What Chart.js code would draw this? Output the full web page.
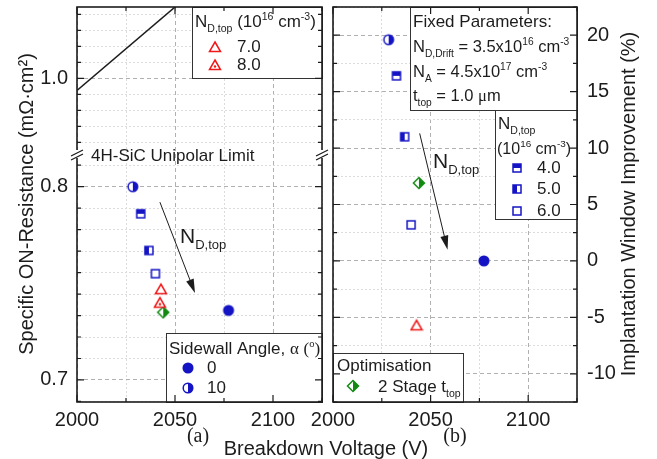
<!DOCTYPE html>
<html>
<head>
<meta charset="utf-8">
<script src="https://cdn.jsdelivr.net/npm/chart.js@4.4.1/dist/chart.umd.min.js"></script>
<style>
  body { margin: 0; background: #fff; }
  #wrap { position: relative; width: 657px; height: 459px; }
  canvas { position: absolute; left: 0; top: 0; }
  #chartB { visibility: hidden; }
</style>
</head>
<body>
<div id="wrap">
  <canvas id="chartB" width="657" height="459"></canvas>
  <canvas id="chartA" width="657" height="459"></canvas>
</div>
<script>
// one point per simulated design
const seriesNames = ['alpha0', 'alpha10', 'nd4', 'nd5', 'nd6', 'nd7', 'nd8', 'twoStage'];
const breakdownV = [2077.3, 2028.5, 2032.5, 2036.7, 2040.0, 2042.8, 2042.3, 2044.0];
const ronSp = [0.736, 0.800, 0.786, 0.767, 0.755, 0.747, 0.740, 0.735];
const windowImpr = [0, 19.6, 16.4, 11.0, 3.2, -5.7, null, 6.9];

// 4H-SiC unipolar limit (upper part of the broken axis)
const limitV = [2000, 2060];
const limitRon = [0.9925, 1.055];

// tick labels
const vLabels = [2000, 2050, 2100];
const ronLabels = [0.7, 0.8, 1.0];
const pctLabels = [-10, -5, 0, 5, 10, 15, 20];

const BLUE = '#1414c4', RED = '#f01818', GREEN = '#128a12', INK = '#1c1c1c';
const SANS = '"Liberation Sans", Arial, sans-serif';
const SERIF = '"Liberation Serif", "Times New Roman", serif';

function marker(kind) {
  const c = document.createElement('canvas');
  c.width = 14; c.height = 14;
  const g = c.getContext('2d');
  const m = 7;
  g.lineWidth = 1.5;
  if (kind === 'circle' || kind === 'circleHalf') {
    g.beginPath(); g.arc(m, m, 4.8, 0, Math.PI * 2);
    g.fillStyle = kind === 'circle' ? BLUE : '#fff'; g.fill();
    if (kind === 'circleHalf') {
      g.beginPath(); g.arc(m, m, 4.8, -Math.PI / 2, Math.PI / 2); g.closePath();
      g.fillStyle = BLUE; g.fill();
    }
    g.strokeStyle = BLUE; g.beginPath(); g.arc(m, m, 4.8, 0, Math.PI * 2); g.stroke();
  } else if (kind.startsWith('sq')) {
    g.fillStyle = '#fff'; g.fillRect(m - 4, m - 4, 8, 8);
    g.fillStyle = BLUE;
    if (kind === 'sqTop') g.fillRect(m - 4, m - 4, 8, 4);
    if (kind === 'sqLeft') g.fillRect(m - 4, m - 4, 4, 8);
    g.strokeStyle = BLUE; g.strokeRect(m - 4, m - 4, 8, 8);
  } else if (kind.startsWith('tri')) {
    g.beginPath(); g.moveTo(m, m - 5); g.lineTo(m + 5.5, m + 4.5); g.lineTo(m - 5.5, m + 4.5); g.closePath();
    g.fillStyle = '#fff'; g.fill(); g.strokeStyle = RED; g.stroke();
    if (kind === 'triDot') { g.beginPath(); g.arc(m, m + 1.5, 1.2, 0, Math.PI * 2); g.fillStyle = RED; g.fill(); }
  } else if (kind === 'diamond') {
    g.beginPath(); g.moveTo(m, m - 5.5); g.lineTo(m + 5.5, m); g.lineTo(m, m + 5.5); g.lineTo(m - 5.5, m); g.closePath();
    g.fillStyle = '#fff'; g.fill();
    g.beginPath(); g.moveTo(m, m - 5.5); g.lineTo(m + 5.5, m); g.lineTo(m, m + 5.5); g.closePath();
    g.fillStyle = GREEN; g.fill();
    g.beginPath(); g.moveTo(m, m - 5.5); g.lineTo(m + 5.5, m); g.lineTo(m, m + 5.5); g.lineTo(m - 5.5, m); g.closePath();
    g.strokeStyle = GREEN; g.stroke();
  }
  return c;
}

const styles = {
  alpha0: marker('circle'), alpha10: marker('circleHalf'),
  nd4: marker('sqTop'), nd5: marker('sqLeft'), nd6: marker('sqOpen'),
  nd7: marker('tri'), nd8: marker('triDot'), twoStage: marker('diamond')
};

function pointSets(yArr, yAxisID) {
  return seriesNames.map((n, i) => ({
    label: n, data: yArr[i] === null ? [] : [{x: breakdownV[i], y: yArr[i]}],
    pointStyle: styles[n], pointRadius: 5, pointHoverRadius: 5, yAxisID
  }));
}

// text with sub/superscripts, parts: 'text' or ['text', 'sub'|'sup'|'serif'|'serifSup']
function rich(ctx, x, y, parts, size) {
  ctx.textBaseline = 'alphabetic'; ctx.textAlign = 'left'; ctx.fillStyle = INK;
  for (const p of parts) {
    const [txt, mode] = typeof p === 'string' ? [p, ''] : p;
    let fs = size, dy = 0, fam = SANS;
    if (mode === 'sub') { fs = size * 0.62; dy = size * 0.3; }
    if (mode === 'sup') { fs = size * 0.62; dy = -size * 0.42; }
    if (mode === 'serif') fam = SERIF;
    if (mode === 'serifSup') { fam = SERIF; fs = size * 0.62; dy = -size * 0.42; }
    ctx.font = fs + 'px ' + fam;
    ctx.fillText(txt, x, y + dy);
    x += ctx.measureText(txt).width;
  }
  return x;
}

function box(ctx, x0, y0, x1, y1) {
  ctx.fillStyle = '#fff'; ctx.fillRect(x0, y0, x1 - x0, y1 - y0);
  ctx.strokeStyle = '#333'; ctx.lineWidth = 1; ctx.strokeRect(x0 + 0.5, y0 + 0.5, x1 - x0, y1 - y0);
}

function plain(ctx, txt, x, y, size, align) {
  ctx.font = size + 'px ' + SANS; ctx.fillStyle = INK;
  ctx.textAlign = align || 'left'; ctx.textBaseline = 'middle';
  ctx.fillText(txt, x, y);
}

function arrow(ctx, x0, y0, x1, y1) {
  const ang = Math.atan2(y1 - y0, x1 - x0);
  ctx.strokeStyle = INK; ctx.fillStyle = INK; ctx.lineWidth = 1;
  ctx.beginPath(); ctx.moveTo(x0, y0);
  ctx.lineTo(x1 - 12 * Math.cos(ang), y1 - 12 * Math.sin(ang)); ctx.stroke();
  ctx.beginPath(); ctx.moveTo(x1, y1);
  ctx.lineTo(x1 - 14 * Math.cos(ang) + 4 * Math.sin(ang), y1 - 14 * Math.sin(ang) - 4 * Math.cos(ang));
  ctx.lineTo(x1 - 14 * Math.cos(ang) - 4 * Math.sin(ang), y1 - 14 * Math.sin(ang) + 4 * Math.cos(ang));
  ctx.closePath(); ctx.fill();
}

// frame + inward ticks on every side
function frameAndTicks(chart) {
  const {ctx, chartArea: a} = chart;
  ctx.save();
  ctx.strokeStyle = INK; ctx.lineWidth = 1.2;
  Object.values(chart.scales).forEach(s => {
    s.ticks.forEach(t => {
      const p = s.getPixelForValue(t.value);
      const len = t.label ? 7 : 4;
      ctx.beginPath();
      if (s.isHorizontal()) {
        ctx.moveTo(p, a.bottom); ctx.lineTo(p, a.bottom - len);
        ctx.moveTo(p, a.top); ctx.lineTo(p, a.top + len);
      } else {
        if (p < s.top - 0.5 || p > s.bottom + 0.5) return;
        ctx.moveTo(a.left, p); ctx.lineTo(a.left + len, p);
        ctx.moveTo(a.right, p); ctx.lineTo(a.right - len, p);
      }
      ctx.stroke();
    });
  });
  ctx.lineWidth = 1.6;
  ctx.strokeRect(a.left, a.top, a.width, a.height);
  ctx.restore();
}

const gridCol = major => major ? '#b0b0b0' : '#dcdcdc';
const gridDash = major => major ? [4, 3] : [2, 2];
const tickFont = {family: SANS, size: 20};

function xScale() {
  return {
    type: 'linear', min: 2000, max: 2125,
    afterBuildTicks: s => { s.ticks = [2000, 2025, 2050, 2075, 2100, 2125].map(v => ({value: v})); },
    afterFit: s => { s.height = 57; s.paddingLeft = 0; s.paddingRight = 0; },
    ticks: {font: tickFont, color: INK, padding: 6, autoSkip: false, maxRotation: 0,
      callback: v => vLabels.includes(v) ? String(v) : ''},
    grid: {drawTicks: false, color: c => gridCol(c.tick && vLabels.includes(c.tick.value))},
    border: {display: false, dash: c => gridDash(c.tick && vLabels.includes(c.tick.value))}
  };
}

function yScale(min, max, values, labelOf, extra) {
  const isMajor = v => labelOf(v) !== '';
  return Object.assign({
    type: 'linear', min, max,
    afterBuildTicks: s => { s.ticks = values.map(v => ({value: v})); },
    ticks: {font: tickFont, color: INK, padding: 9, autoSkip: false, callback: labelOf},
    grid: {drawTicks: false, color: c => gridCol(c.tick && isMajor(c.tick.value))},
    border: {display: false, dash: c => gridDash(c.tick && isMajor(c.tick.value))}
  }, extra);
}

const ronLowTicks = [];
for (let k = -1; k <= 10; k++) ronLowTicks.push(+(0.7 + k * 0.1 / 9).toFixed(5));
const ronHighTicks = [];
for (let k = 96; k <= 104; k++) ronHighTicks.push(k / 100);
const pctTicks = [];
for (let k = -5; k <= 9; k++) pctTicks.push(k * 2.5);

const ronLabel = v => ronLabels.includes(v) ? v.toFixed(1) : '';
const pctLabel = v => pctLabels.includes(v) ? String(v) : '';
const fixY = w => s => { s.width = w; s.paddingTop = 0; s.paddingBottom = 0; };

const common = {
  responsive: false, animation: false, events: [],
  plugins: {legend: {display: false}, tooltip: {enabled: false}}
};

// panel (b) is drawn first on its own canvas, then copied onto panel (a)'s canvas
const decoB = {
  id: 'decoB',
  afterDatasetsDraw(chart) {
    const {ctx, scales: {x, y}} = chart;
    ctx.save();
    box(ctx, 410, 7, 577, 110);
    rich(ctx, 413, 27, ['Fixed Parameters:'], 17);
    rich(ctx, 413, 52, ['N', ['D,Drift', 'sub'], ' = 3.5x10', ['16', 'sup'], ' cm', ['-3', 'sup']], 16.5);
    rich(ctx, 413, 77, ['N', ['A', 'sub'], ' = 4.5x10', ['17', 'sup'], ' cm', ['-3', 'sup']], 16.5);
    rich(ctx, 413, 101, ['t', ['top', 'sub'], ' = 1.0 ', ['\u03bc', 'serif'], 'm'], 16.5);
    box(ctx, 495, 110, 577, 219);
    rich(ctx, 498, 129, ['N', ['D,top', 'sub']], 17);
    rich(ctx, 497, 154, ['(10', ['16', 'sup'], ' cm', ['-3', 'sup'], ')'], 16);
    ctx.drawImage(styles.nd4, 510, 161); plain(ctx, '4.0', 537, 168, 17);
    ctx.drawImage(styles.nd5, 510, 182); plain(ctx, '5.0', 537, 189, 17);
    ctx.drawImage(styles.nd6, 510, 204); plain(ctx, '6.0', 537, 211, 17);
    box(ctx, 333, 353, 463, 402);
    rich(ctx, 337, 371, ['Optimisation'], 17);
    ctx.drawImage(styles.twoStage, 346, 379);
    rich(ctx, 378, 392, ['2 Stage t', ['top', 'sub']], 17);
    arrow(ctx, x.getPixelForValue(2044.4), y.getPixelForValue(11.3), x.getPixelForValue(2058.7), y.getPixelForValue(1.0));
    rich(ctx, 433, 168, ['N', ['D,top', 'sub']], 21);
    ctx.restore();
  },
  afterDraw(chart) {
    const {ctx} = chart;
    frameAndTicks(chart);
    ctx.save();
    ctx.translate(629, 204); ctx.rotate(-Math.PI / 2);
    plain(ctx, 'Implantation Window Improvement (%)', 0, 0, 20, 'center');
    ctx.restore();
  }
};

const chartB = new Chart(document.getElementById('chartB'), {
  type: 'scatter',
  data: {datasets: pointSets(windowImpr, 'y')},
  options: Object.assign({}, common, {
    layout: {padding: {left: 333, right: 0, top: 7, bottom: 0}},
    scales: {
      x: xScale(),
      y: yScale(-12.5, 22.5, pctTicks, pctLabel,
        {position: 'right', afterFit: fixY(80),
         ticks: {font: tickFont, color: INK, padding: 10, autoSkip: false, callback: pctLabel}})
    }
  }),
  plugins: [decoB]
});

const decoA = {
  id: 'decoA',
  afterDatasetsDraw(chart) {
    const {ctx, scales: {x, yLow}} = chart;
    ctx.save();
    // legend: N_D,top triangles
    box(ctx, 192, 7, 322, 78);
    rich(ctx, 195, 27, ['N', ['D,top', 'sub'], ' (10', ['16', 'sup'], ' cm', ['-3', 'sup'], ')'], 17);
    ctx.drawImage(styles.nd7, 208, 40); plain(ctx, '7.0', 237, 47, 17);
    ctx.drawImage(styles.nd8, 208, 58); plain(ctx, '8.0', 237, 65, 17);
    // legend: sidewall angle
    box(ctx, 166, 333, 322, 402);
    rich(ctx, 169, 354, ['Sidewall Angle, ', ['\u03b1', 'serif'], ' ', ['(', 'serif'], ['o', 'serifSup'], [')', 'serif']], 17);
    ctx.drawImage(styles.alpha0, 181, 361); plain(ctx, '0', 207, 368, 17);
    ctx.drawImage(styles.alpha10, 181, 381); plain(ctx, '10', 207, 388, 17);
    // trend arrow
    arrow(ctx, x.getPixelForValue(2042.3), yLow.getPixelForValue(0.792), x.getPixelForValue(2060.2), yLow.getPixelForValue(0.745));
    rich(ctx, 180, 243, ['N', ['D,top', 'sub']], 21);
    ctx.restore();
  },
  afterDraw(chart) {
    const {ctx, chartArea: a, scales: {yHigh}} = chart;
    frameAndTicks(chart);
    ctx.save();
    // axis break marks
    const yb = yHigh.bottom;
    [a.left, a.right].forEach(x0 => {
      ctx.fillStyle = '#fff'; ctx.fillRect(x0 - 2, yb - 5, 4, 8);
      ctx.strokeStyle = INK; ctx.lineWidth = 1.2;
      ctx.beginPath();
      ctx.moveTo(x0 - 6, yb + 1); ctx.lineTo(x0 + 6, yb - 5);
      ctx.moveTo(x0 - 6, yb + 5); ctx.lineTo(x0 + 6, yb - 1);
      ctx.stroke();
    });
    plain(ctx, '4H-SiC Unipolar Limit', 91, 156, 17);
    // axis titles
    ctx.save();
    ctx.translate(27, 204); ctx.rotate(-Math.PI / 2);
    plain(ctx, 'Specific ON-Resistance (m\u03a9\u00b7cm\u00b2)', 0, 0, 20, 'center');
    ctx.restore();
    plain(ctx, 'Breakdown Voltage (V)', 326, 449, 20, 'center');
    ctx.font = '20px ' + SERIF; ctx.textAlign = 'center'; ctx.textBaseline = 'middle'; ctx.fillStyle = INK;
    ctx.fillText('(a)', 198, 437);
    ctx.fillText('(b)', 455, 437);
    // bring in panel (b)
    ctx.drawImage(chartB.canvas, 0, 0);
    ctx.restore();
  }
};

new Chart(document.getElementById('chartA'), {
  type: 'scatter',
  data: {
    datasets: [{
      label: 'limit', data: limitV.map((v, i) => ({x: v, y: limitRon[i]})),
      showLine: true, borderColor: INK, borderWidth: 1.5, pointRadius: 0, pointHoverRadius: 0,
      clip: 0, yAxisID: 'yHigh'
    }].concat(pointSets(ronSp, 'yLow'))
  },
  options: Object.assign({}, common, {
    layout: {padding: {left: 0, right: 335, top: 7, bottom: 0}},
    scales: {
      x: xScale(),
      yLow: yScale(0.6886, 0.8164, ronLowTicks, ronLabel,
        {position: 'left', stack: 'ron', stackWeight: 247, afterFit: fixY(77)}),
      yHigh: yScale(0.9521, 1.0446, ronHighTicks, ronLabel,
        {position: 'left', stack: 'ron', stackWeight: 148, afterFit: fixY(77)})
    }
  }),
  plugins: [decoA]
});
</script>
</body>
</html>
